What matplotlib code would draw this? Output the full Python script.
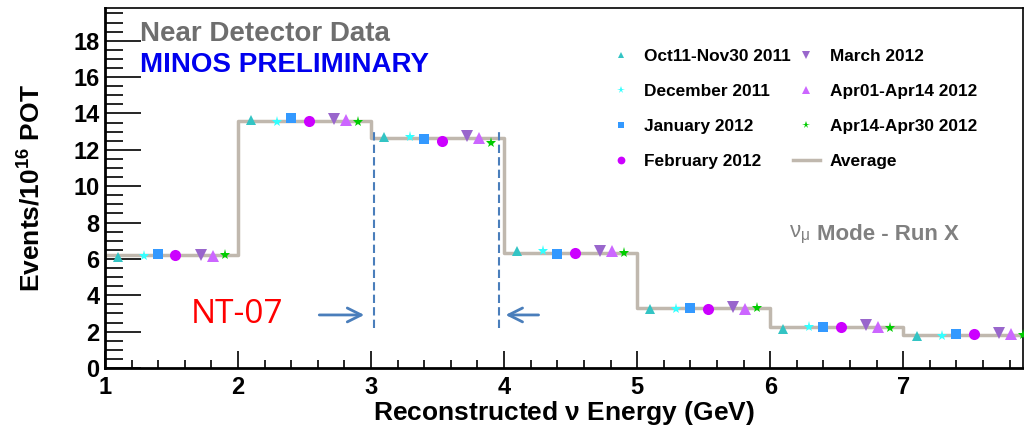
import matplotlib.pyplot as plt
import numpy as np
from matplotlib.ticker import MultipleLocator

plt.rcParams['font.family'] = ['Liberation Sans', 'DejaVu Sans']
plt.rcParams['mathtext.fontset'] = 'custom'
plt.rcParams['mathtext.rm'] = 'Liberation Sans'
plt.rcParams['mathtext.bf'] = 'Liberation Sans:bold'
plt.rcParams['mathtext.default'] = 'regular'

# bin edges and the average spectrum
edges = [1, 2, 3, 4, 5, 6, 7, 8]
average = [6.22, 13.6, 12.63, 6.34, 3.28, 2.26, 1.82]

# offset of each period's marker inside a bin
offsets = [0.10, 0.29, 0.40, 0.53, 0.72, 0.81, 0.90]

labels = ['Oct11-Nov30 2011', 'December 2011', 'January 2012', 'February 2012',
          'March 2012', 'Apr01-Apr14 2012', 'Apr14-Apr30 2012']

oct_nov = [6.13, 13.63, 12.69, 6.42, 3.23, 2.15, 1.76]
december = [6.17, 13.55, 12.70, 6.42, 3.27, 2.26, 1.76]
january = [6.28, 13.75, 12.60, 6.25, 3.30, 2.26, 1.89]
february = [6.20, 13.56, 12.47, 6.30, 3.25, 2.26, 1.87]
march = [6.22, 13.72, 12.78, 6.45, 3.34, 2.37, 1.93]
apr_a = [6.15, 13.63, 12.65, 6.45, 3.23, 2.26, 1.87]
apr_b = [6.24, 13.55, 12.36, 6.30, 3.30, 2.20, 1.82]

series = [oct_nov, december, january, february, march, apr_a, apr_b]
markers = ['^', '*', 's', 'o', 'v', '^', '*']
colors = ['#33c4c4', '#33ffff', '#3399ff', '#cc00ff', '#9966cc', '#cc66ff', '#00cc00']
sizes = [7, 8, 7, 8, 8, 8, 8]

fig = plt.figure(figsize=(10.24, 4.33), dpi=100)
ax = fig.add_axes([0.1025, 0.150, 0.8965, 0.8315])

# average histogram as a step line
avg_handle = ax.step(edges, average + [average[-1]], where='post', color='#c0b8ae',
                     lw=2.5, zorder=2, label='Average')[0]

handles = []
for i, s in enumerate(series):
    xs = [edges[j] + offsets[i] for j in range(len(s))]
    h = ax.plot(xs, s, linestyle='none', marker=markers[i], color=colors[i],
                ms=sizes[i], mew=0, zorder=3, label=labels[i])[0]
    handles.append(h)

# NT-07 window
for xv in [3.02, 3.96]:
    ax.plot([xv, xv], [2.2, 13.05], color='#4a7ebb', lw=1.5, ls=(0, (4, 2)), zorder=4)
ax.annotate('', xy=(2.97, 2.92), xytext=(2.59, 2.92),
            arrowprops=dict(arrowstyle='->', color='#4a7ebb', lw=2, mutation_scale=25))
ax.annotate('', xy=(3.99, 2.92), xytext=(4.28, 2.92),
            arrowprops=dict(arrowstyle='->', color='#4a7ebb', lw=2, mutation_scale=25))
ax.text(1.99, 2.92, 'NT-07', color='red', fontsize=24, ha='center', va='center',
        family='Open Sans')

ax.text(0.038, 0.927, 'Near Detector Data', transform=ax.transAxes, color='#6e6e6e',
        fontsize=20, fontweight='bold', va='center')
ax.text(0.038, 0.842, 'MINOS PRELIMINARY', transform=ax.transAxes, color='#0000ee',
        fontsize=20, fontweight='bold', va='center')
ax.text(0.745, 0.37, r'$\nu_{\mu}$ ', transform=ax.transAxes,
        color='#808080', fontsize=16, va='center')
ax.text(0.776, 0.37, 'Mode - Run X', transform=ax.transAxes,
        color='#808080', fontsize=16, fontweight='bold', va='center')

leg = ax.legend(handles=handles + [avg_handle], ncol=2, frameon=False,
                loc='upper left', bbox_to_anchor=(0.53, 0.93),
                prop={'weight': 'bold', 'size': 12.4}, handlelength=1.6,
                handletextpad=0.55, labelspacing=1.17, columnspacing=0.1,
                markerscale=0.7)

ax.set_xlim(1, 7.9)
ax.set_ylim(0, 19.8)
ax.xaxis.set_major_locator(MultipleLocator(1))
ax.xaxis.set_minor_locator(MultipleLocator(0.2))
ax.yaxis.set_major_locator(MultipleLocator(2))
ax.yaxis.set_minor_locator(MultipleLocator(0.5))
ax.tick_params(which='both', direction='in', top=False, right=False, width=1.2)
ax.tick_params(axis='y', which='major', length=26)
ax.tick_params(axis='y', which='minor', length=13)
ax.tick_params(axis='x', which='major', length=12)
ax.tick_params(axis='x', which='minor', length=6)
ax.tick_params(axis='y', labelsize=17, pad=4)
ax.tick_params(axis='x', labelsize=17, pad=6)
for lab in ax.get_xticklabels() + ax.get_yticklabels():
    lab.set_fontweight('bold')

ax.set_xlabel(r'Reconstructed $\mathbf{\nu}$ Energy (GeV)', fontsize=19,
              fontweight='bold', labelpad=0)
ax.set_ylabel(r'Events/10$^{\mathbf{16}}$ POT', fontsize=19, fontweight='bold', labelpad=20)
for sp in ax.spines.values():
    sp.set_linewidth(1.2)
ax.spines['left'].set_linewidth(2)
ax.spines['bottom'].set_linewidth(2)

fig.savefig('out.png', dpi=100)
